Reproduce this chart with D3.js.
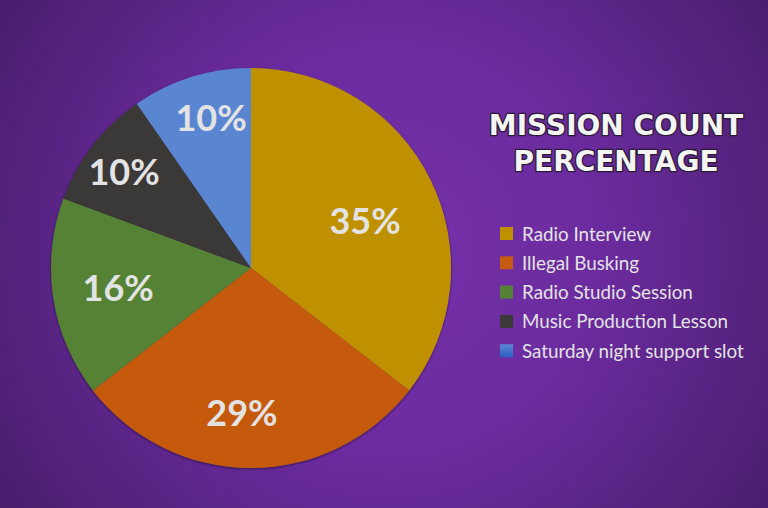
<!DOCTYPE html>
<html><head><meta charset="utf-8">
<script src="https://cdn.jsdelivr.net/npm/d3@7"></script>
<style>html,body{margin:0;padding:0;overflow:hidden;background:#5a2585}</style>
</head><body>
<svg id="chart" width="768" height="508"></svg>
<script>
const categories = ["Radio Interview","Illegal Busking","Radio Studio Session","Music Production Lesson","Saturday night support slot"];
const values = [11, 9, 5, 3, 3];
const colors = ["#BF9000","#C55A11","#548235","#3B3838","url(#blueGrad)"];
const legendColors = ["#BF9000","#C55A11","#548235","#3B3838","url(#blueGradL)"];
const titleLines = ["MISSION COUNT","PERCENTAGE"];
const labelRadius = [0.617, 0.726, 0.672, 0.796, 0.776];
const labelShiftDeg = [3.7, 3.6, 0, -0.6, 2.5];

const svg = d3.select("#chart");
const defs = svg.append("defs");
const bg = defs.append("radialGradient").attr("id","bgGrad")
  .attr("gradientUnits","userSpaceOnUse").attr("cx",390).attr("cy",250).attr("r",470);
bg.append("stop").attr("offset","0%").attr("stop-color","#7631AA");
bg.append("stop").attr("offset","45%").attr("stop-color","#6B2B9E");
bg.append("stop").attr("offset","100%").attr("stop-color","#471D6A");
svg.append("rect").attr("width",768).attr("height",508).attr("fill","url(#bgGrad)");

const cx = 251, cy = 268, R = 200;
const bgr = defs.append("linearGradient").attr("id","blueGrad")
  .attr("gradientUnits","userSpaceOnUse").attr("x1",0).attr("y1",cy-R).attr("x2",0).attr("y2",cy);
bgr.append("stop").attr("offset","0%").attr("stop-color","#5A86D1");
bgr.append("stop").attr("offset","100%").attr("stop-color","#2C5FC4");
const bgl = defs.append("linearGradient").attr("id","blueGradL").attr("x1",0).attr("y1",0).attr("x2",0).attr("y2",1);
bgl.append("stop").attr("offset","0%").attr("stop-color","#5A86D1");
bgl.append("stop").attr("offset","100%").attr("stop-color","#2C5FC4");

const sh = defs.append("filter").attr("id","shadow").attr("x","-10%").attr("y","-10%").attr("width","120%").attr("height","120%");
sh.append("feDropShadow").attr("dx",0).attr("dy",1).attr("stdDeviation",1.2).attr("flood-color","#1a0a28").attr("flood-opacity",0.7);

const total = d3.sum(values);
const fmt = d3.format(".0%");
const pie = d3.pie().sort(null).value(d => d)(values);
const arc = d3.arc().innerRadius(0).outerRadius(R);
const g = svg.append("g").attr("transform",`translate(${cx},${cy})`);
g.append("g").attr("filter","url(#shadow)").selectAll("path").data(pie).join("path")
  .attr("d",arc).attr("fill",(d,i)=>colors[i]);

g.selectAll("text.lbl").data(pie).join("text").attr("class","lbl")
  .attr("transform",(d,i)=>{
    const a = (d.startAngle + d.endAngle)/2 + labelShiftDeg[i]*Math.PI/180;
    const r = R*labelRadius[i];
    return `translate(${Math.sin(a)*r},${-Math.cos(a)*r})`;})
  .attr("text-anchor","middle").attr("dy","0.36em")
  .attr("font-family","Lato, 'Open Sans', sans-serif").attr("font-weight","bold").attr("font-size",36)
  .attr("fill","#E3E3E3")
  .text(d=>fmt(d.data/total));

const title = svg.append("g");
title.selectAll("text").data(titleLines).join("text")
  .attr("x",616).attr("y",(d,i)=>135+i*36).attr("text-anchor","middle")
  .attr("font-family","'DejaVu Sans', sans-serif").attr("font-weight","bold").attr("font-size",28)
  .attr("fill","#F4F4F4").attr("stroke","#2a1a33").attr("stroke-width",2.6).attr("paint-order","stroke")
  .attr("stroke-linejoin","round")
  .text(d=>d);

const leg = svg.append("g").attr("transform","translate(500,234)");
const items = leg.selectAll("g").data(categories).join("g").attr("transform",(d,i)=>`translate(0,${i*29.3})`);
items.append("rect").attr("x",0).attr("y",-7).attr("width",13).attr("height",13).attr("fill",(d,i)=>legendColors[i]);
items.append("text").attr("x",22).attr("y",0).attr("dy","0.35em")
  .attr("font-family","Lato, 'Open Sans', sans-serif").attr("font-size",18.8).attr("fill","#E3E3E3")
  .text(d=>d);
</script>
</body></html>
